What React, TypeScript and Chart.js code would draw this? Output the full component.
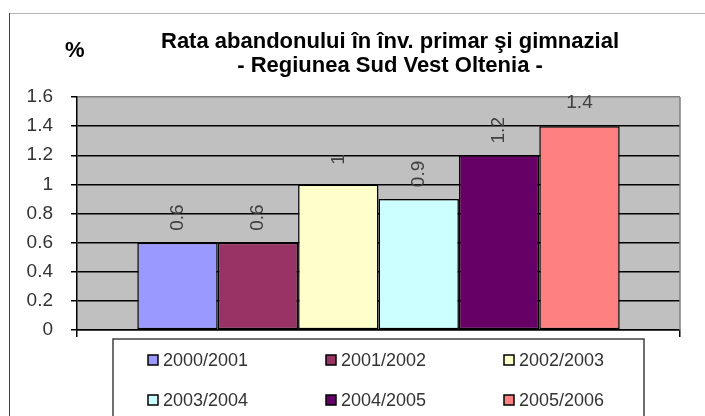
import React, { useEffect, useRef } from 'react';
import { Chart, registerables } from 'chart.js';

Chart.register(...registerables);

// ---- data ----
const categories = [''];
const seasons = ['2000/2001', '2001/2002', '2002/2003', '2003/2004', '2004/2005', '2005/2006'];
const rates = [0.6, 0.6, 1, 0.9, 1.2, 1.4];
const yTickLabels = ['0', '0.2', '0.4', '0.6', '0.8', '1', '1.2', '1.4', '1.6'];
const yMin = 0;
const yMax = 1.6;
const yStep = 0.2;
const titleLines = ['Rata abandonului în înv. primar şi gimnazial', '- Regiunea Sud Vest Oltenia -'];
const unitLabel = '%';

// ---- styles ----
const barColors = ['#9999FF', '#993366', '#FFFFCC', '#CCFFFF', '#660066', '#FF8080'];
const labelRotations = [-90, -90, -90, -90, -90, 0];
const FONT = '"Liberation Sans", Arial, Helvetica, sans-serif';

const decorPlugin = {
  id: 'decor',
  beforeDraw(chart: any) {
    const { ctx, chartArea: a, width, height } = chart;
    ctx.save();
    ctx.fillStyle = '#ffffff';
    ctx.fillRect(0, 0, width, height);
    ctx.fillStyle = '#C0C0C0';
    ctx.fillRect(a.left, a.top, a.right - a.left, a.bottom - a.top);
    // outer frame
    ctx.lineWidth = 1;
    ctx.strokeStyle = '#b4b4b4';
    ctx.beginPath();
    ctx.moveTo(9, 13.5);
    ctx.lineTo(width, 13.5);
    ctx.stroke();
    ctx.strokeStyle = '#404040';
    ctx.beginPath();
    ctx.moveTo(9.5, 13);
    ctx.lineTo(9.5, height);
    ctx.stroke();
    // title
    ctx.fillStyle = '#000';
    ctx.font = `bold 22px ${FONT}`;
    ctx.textAlign = 'center';
    ctx.textBaseline = 'alphabetic';
    ctx.fillText(titleLines[0], 390, 48);
    ctx.fillText(titleLines[1], 390, 72);
    ctx.textAlign = 'left';
    ctx.fillText(unitLabel, 65, 57);
    ctx.restore();
  },
  afterDatasetsDraw(chart: any) {
    const { ctx } = chart;
    ctx.save();
    ctx.fillStyle = '#404040';
    ctx.font = `19px ${FONT}`;
    ctx.textAlign = 'center';
    ctx.textBaseline = 'middle';
    chart.data.datasets.forEach((ds: any, i: number) => {
      const meta = chart.getDatasetMeta(i);
      const el = meta.data[0];
      if (!el) return;
      const text = String(ds.data[0]);
      const rot = labelRotations[i];
      ctx.save();
      if (rot !== 0) {
        ctx.translate(el.x, el.y - 25);
        ctx.rotate((rot * Math.PI) / 180);
      } else {
        ctx.translate(el.x, el.y - 23);
      }
      ctx.fillText(text, 0, 0);
      ctx.restore();
    });
    ctx.restore();
  },
  afterDraw(chart: any) {
    const { ctx, chartArea: a } = chart;
    ctx.save();
    // right border of plot area
    ctx.strokeStyle = '#808080';
    ctx.lineWidth = 1.5;
    ctx.beginPath();
    ctx.moveTo(a.right, a.top);
    ctx.lineTo(a.right, a.bottom);
    ctx.stroke();
    // legend box
    const lx = 113;
    const ly = 339;
    const lw = 531;
    ctx.strokeStyle = '#404040';
    ctx.lineWidth = 1.5;
    ctx.beginPath();
    ctx.moveTo(lx, chart.height + 2);
    ctx.lineTo(lx, ly);
    ctx.lineTo(lx + lw, ly);
    ctx.lineTo(lx + lw, chart.height + 2);
    ctx.stroke();
    ctx.font = `18px ${FONT}`;
    ctx.textAlign = 'left';
    ctx.textBaseline = 'middle';
    chart.data.datasets.forEach((ds: any, i: number) => {
      const col = i % 3;
      const row = Math.floor(i / 3);
      const sx = 148 + col * 178;
      const cy = 360 + row * 40;
      ctx.fillStyle = ds.backgroundColor;
      ctx.fillRect(sx, cy - 5, 10, 10);
      ctx.strokeStyle = '#000';
      ctx.lineWidth = 1.5;
      ctx.strokeRect(sx, cy - 5, 10, 10);
      ctx.fillStyle = '#333';
      ctx.fillText(ds.label, sx + 15, cy + 1);
    });
    ctx.restore();
  },
};

export default function App() {
  const ref = useRef<HTMLCanvasElement | null>(null);
  useEffect(() => {
    if (!ref.current) return;
    const chart = new Chart(ref.current, {
      type: 'bar',
      data: {
        labels: categories,
        datasets: seasons.map((s, i) => ({
          label: s,
          data: [rates[i]],
          backgroundColor: barColors[i],
          borderColor: '#000',
          borderWidth: 1.5,
          borderSkipped: false,
          categoryPercentage: 0.8,
          barPercentage: 1,
        })),
      },
      options: {
        animation: false,
        responsive: false,
        devicePixelRatio: 1,
        layout: { padding: { left: 0, top: 97, right: 25, bottom: 0 } },
        plugins: {
          legend: { display: false },
          title: { display: false },
          tooltip: { enabled: false },
        },
        scales: {
          x: {
            offset: true,
            afterFit: (s: any) => {
              s.height = 86;
            },
            ticks: { display: false },
            grid: {
              display: true,
              offset: true,
              drawOnChartArea: false,
              drawTicks: true,
              tickLength: 7,
              color: '#000',
              lineWidth: 1.5,
            },
            border: { display: true, color: '#000', width: 1.5 },
          },
          y: {
            min: yMin,
            max: yMax,
            afterFit: (s: any) => {
              s.width = 77;
            },
            ticks: {
              stepSize: yStep,
              padding: 18,
              color: '#333',
              font: { family: FONT, size: 19 },
              callback: (_v: any, idx: number) => yTickLabels[idx],
            },
            grid: {
              drawTicks: true,
              tickLength: 6,
              lineWidth: 1.5,
              color: (c: any) => (c.tick && Math.abs(c.tick.value - yMax) < 1e-9 ? '#808080' : '#000'),
              tickColor: '#000',
            },
            border: { display: true, color: '#000', width: 1.5 },
          },
        },
      },
      plugins: [decorPlugin],
    } as any);
    return () => chart.destroy();
  }, []);
  return (
    <div style={{ position: 'fixed', left: 0, top: 0, width: 705, height: 416, background: '#fff' }}>
      <canvas ref={ref} width={705} height={416} style={{ display: 'block', width: 705, height: 416 }} />
    </div>
  );
}
